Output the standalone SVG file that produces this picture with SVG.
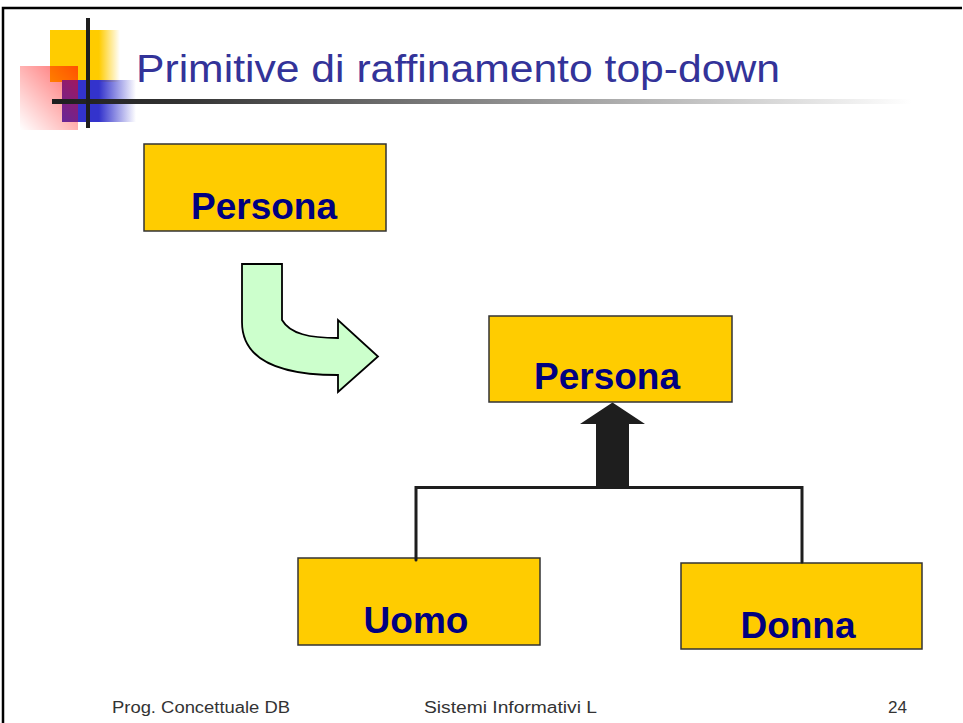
<svg xmlns="http://www.w3.org/2000/svg" width="963" height="723" viewBox="0 0 963 723">
<defs>
<style>
.box{fill:#FFCC00;stroke:#333;stroke-width:1.5}
.lbl{font-family:"Liberation Sans",Arial,sans-serif;font-weight:bold;font-size:37px;fill:#000080;text-anchor:middle}
.foot{font-family:"Liberation Sans",Arial,sans-serif;font-size:16px;fill:#333}
.conn{stroke:#1e1e1e;stroke-width:3;fill:none;stroke-linecap:round}
</style>
<linearGradient id="hl" x1="0" x2="1" y1="0" y2="0">
<stop offset="0" stop-color="#1e1e1e"/>
<stop offset="0.15" stop-color="#333"/>
<stop offset="1" stop-color="#fff"/>
</linearGradient>
<linearGradient id="yg" x1="0" x2="1" y1="0" y2="0">
<stop offset="0" stop-color="#FFCC00"/>
<stop offset="0.7" stop-color="#FFCC00"/>
<stop offset="1" stop-color="#FFCC00" stop-opacity="0"/>
</linearGradient>
<linearGradient id="bg" x1="0" x2="1" y1="0" y2="0">
<stop offset="0" stop-color="#3333CC"/>
<stop offset="0.5" stop-color="#3333CC"/>
<stop offset="1" stop-color="#3333CC" stop-opacity="0"/>
</linearGradient>
<linearGradient id="rg" x1="1" x2="0" y1="0" y2="1">
<stop offset="0" stop-color="#FF0000"/>
<stop offset="1" stop-color="#FF0000" stop-opacity="0"/>
</linearGradient>
</defs>
<rect x="0" y="0" width="963" height="723" fill="#fff"/>
<path d="M3,723 V8 H962" fill="none" stroke="#000" stroke-width="2.5"/>
<g id="logo">
<rect x="50" y="30" width="70" height="52" fill="url(#yg)"/>
<rect x="62" y="80" width="74" height="42" fill="url(#bg)"/>
<rect x="20" y="66" width="58" height="64" fill="url(#rg)" opacity="0.6"/>
<rect x="52" y="99" width="860" height="5" fill="url(#hl)"/>
<rect x="86" y="18" width="4" height="110" fill="#1e1e1e"/>
</g>
<text id="title" x="136" y="82" font-family="'Liberation Sans',Arial,sans-serif" font-size="38" fill="#333399" textLength="644" lengthAdjust="spacingAndGlyphs">Primitive di raffinamento top-down</text>
<g id="persona1">
<rect class="box" x="144" y="144" width="242" height="87"/>
<text class="lbl" x="264" y="219">Persona</text>
</g>
<g id="curved-arrow">
<path d="M242,264 H282 V320 C290,334 310,338 338,338 V320 L378,356.5 L338,392 V375 C280,375 242,360 242,322 Z" fill="#CCFFCC" stroke="#000" stroke-width="1.8" stroke-linejoin="miter"/>
</g>
<g id="persona2">
<rect class="box" x="489" y="316" width="243" height="86"/>
<text class="lbl" x="607" y="389">Persona</text>
</g>
<g id="uomo">
<rect class="box" x="298" y="558" width="242" height="87"/>
<text class="lbl" x="416" y="633">Uomo</text>
</g>
<g id="donna">
<rect class="box" x="681" y="563" width="241" height="86"/>
<text class="lbl" x="798" y="638">Donna</text>
</g>
<g id="connectors">
<path class="conn" d="M416,560 V487.5 H802 V562"/>
<path d="M612.5,402.5 L645,424 H629 V488 H596 V424 H580 Z" fill="#1e1e1e"/>
</g>
<g id="footer">
<text class="foot" x="112" y="713" textLength="178" lengthAdjust="spacingAndGlyphs">Prog. Concettuale DB</text>
<text class="foot" x="424" y="713" textLength="173" lengthAdjust="spacingAndGlyphs">Sistemi Informativi L</text>
<text class="foot" x="888" y="713" textLength="19" lengthAdjust="spacingAndGlyphs">24</text>
</g>
</svg>
